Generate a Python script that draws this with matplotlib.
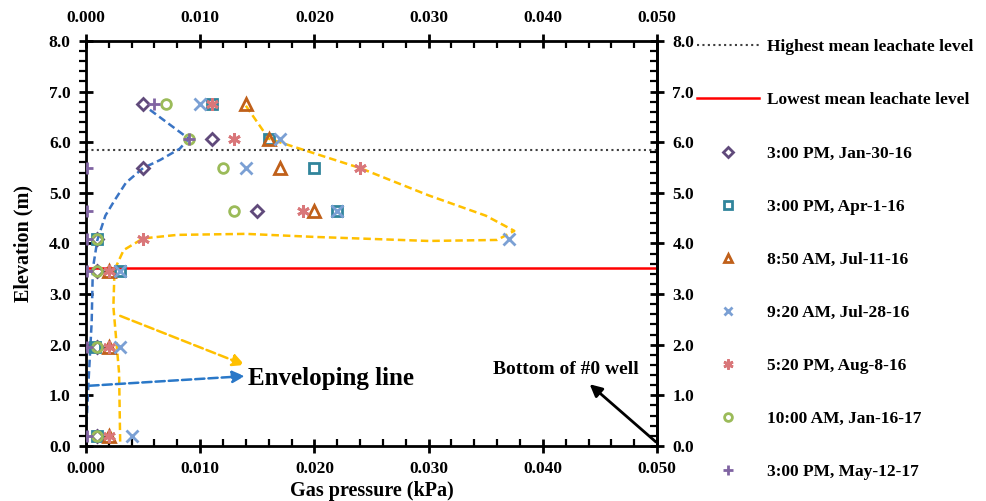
import numpy as np
import matplotlib
matplotlib.use("Agg")
import matplotlib.pyplot as plt
from matplotlib.ticker import MultipleLocator, FormatStrFormatter
from matplotlib.lines import Line2D

plt.rcParams['font.family'] = ['Liberation Serif', 'DejaVu Serif']
plt.rcParams['font.weight'] = 'bold'

# ---- data ----
elevation = [6.76, 6.07, 5.49, 4.64, 4.09, 3.46, 1.96, 0.20]
nan = np.nan
jan30_16 = [0.005, 0.011, 0.005, 0.015, 0.001, 0.001, 0.001, 0.001]
apr1_16 = [0.011, 0.016, 0.020, 0.022, 0.001, 0.003, 0.0008, 0.001]
jul11_16 = [0.014, 0.016, 0.017, 0.020, nan, 0.002, 0.002, 0.002]
jul28_16 = [0.010, 0.017, 0.014, 0.022, 0.037, 0.003, 0.003, 0.004]
aug8_16 = [0.011, 0.013, 0.024, 0.019, 0.005, 0.002, 0.002, 0.002]
jan16_17 = [0.007, 0.009, 0.012, 0.013, 0.001, 0.001, 0.001, 0.001]
may12_17 = [0.006, 0.009, 0.0001, 0.0001, 0.0001, 0.0001, 0.0001, 0.0001]

series_labels = ['3:00 PM, Jan-30-16', '3:00 PM, Apr-1-16', '8:50 AM, Jul-11-16',
                 '9:20 AM, Jul-28-16', '5:20 PM, Aug-8-16', '10:00 AM, Jan-16-17',
                 '3:00 PM, May-12-17']

highest_level = 5.85
lowest_level = 3.52

env_blue_x = [0.0056, 0.009, 0.0082, 0.0065, 0.005, 0.0035, 0.0025, 0.0017, 0.001, 0.0006, 0.0005, 0.0002, 0.0]
env_blue_y = [6.64, 6.07, 5.87, 5.65, 5.49, 5.2, 4.85, 4.55, 4.07, 3.5, 2.45, 1.17, 0.18]

env_yel_x = [0.014, 0.016, 0.020, 0.024, 0.030, 0.035, 0.0375, 0.036, 0.030, 0.020, 0.014, 0.008, 0.005, 0.0033, 0.0025, 0.0024, 0.0029, 0.003]
env_yel_y = [6.72, 6.07, 5.78, 5.49, 4.95, 4.55, 4.25, 4.07, 4.05, 4.13, 4.19, 4.17, 4.10, 3.87, 3.48, 2.75, 1.44, 0.0]

# ---- figure ----
fig = plt.figure(figsize=(9.87, 5.01), dpi=100)
ax = fig.add_axes([0.0871, 0.1098, 0.5786, 0.8084])

ax.axhline(highest_level, color='#404040', ls=(0, (1, 1.6)), lw=1.5, zorder=1)
ax.axhline(lowest_level, color='#FF0000', ls='-', lw=1.8, zorder=1)

dash = (0, (3.0, 1.6))
ax.plot(env_blue_x, env_blue_y, color='#3A74C4', ls=dash, lw=1.8, zorder=2)
ax.plot(env_yel_x, env_yel_y, color='#FFC000', ls=dash, lw=1.8, zorder=2)

asterisk = (6, 2, 0)
styles = [
    dict(marker='D', color='#604A7B', ms=6),
    dict(marker='s', color='#31859C', ms=7),
    dict(marker='^', color='#C0601A', ms=8),
    dict(marker='x', color='#7BA0D4', ms=8),
    dict(marker=asterisk, color='#D9777A', ms=9),
    dict(marker='o', color='#9BBB59', ms=7),
    dict(marker='+', color='#8064A2', ms=9),
]
all_series = [jan30_16, apr1_16, jul11_16, jul28_16, aug8_16, jan16_17, may12_17]
handles = [Line2D([0], [0], color='#404040', ls=(0, (1, 1.6)), lw=1.5),
           Line2D([0], [0], color='#FF0000', lw=1.8)]
labels = ['Highest mean leachate level', 'Lowest mean leachate level']
for vals, st, lab in zip(all_series, styles, series_labels):
    ax.plot(vals, elevation, ls='none', marker=st['marker'], ms=st['ms'],
            mfc='none', mec=st['color'], mew=2.0, zorder=3)
    handles.append(Line2D([0], [0], ls='none', marker=st['marker'], ms=st['ms'] * 0.8,
                          mfc='none', mec=st['color'], mew=2.0))
    labels.append(lab)

# arrows
ax.annotate('', xy=(0.0139, 1.60), xytext=(0.003, 2.57),
            arrowprops=dict(arrowstyle='-|>', color='#FFC000', lw=1.8, ls='--',
                            mutation_scale=18, shrinkA=0, shrinkB=0))
ax.annotate('', xy=(0.0139, 1.38), xytext=(0.0003, 1.19),
            arrowprops=dict(arrowstyle='-|>', color='#2A78C8', lw=1.8, ls='--',
                            mutation_scale=18, shrinkA=0, shrinkB=0))
ax.text(0.0142, 1.33, 'Enveloping line', fontsize=18, fontweight='bold', va='center', ha='left')
ax.annotate('', xy=(0.0441, 1.22), xytext=(0.0499, 0.08),
            arrowprops=dict(arrowstyle='-|>', color='black', lw=2,
                            mutation_scale=18, shrinkA=0, shrinkB=0))
ax.text(0.0356, 1.52, 'Bottom of #0 well', fontsize=14, fontweight='bold', va='center', ha='left')

ax.set_xlim(0, 0.05)
ax.set_ylim(0, 8)
ax.xaxis.set_major_locator(MultipleLocator(0.01))
ax.xaxis.set_minor_locator(MultipleLocator(0.002))
ax.yaxis.set_major_locator(MultipleLocator(1.0))
ax.yaxis.set_minor_locator(MultipleLocator(0.2))
ax.xaxis.set_major_formatter(FormatStrFormatter('%.3f'))
ax.yaxis.set_major_formatter(FormatStrFormatter('%.1f'))
for sp in ax.spines.values():
    sp.set_linewidth(2)

ax.tick_params(which='major', direction='inout', length=10, width=2, labelsize=12.5,
               top=True, right=True, labeltop=True, labelright=True, pad=6)
ax.tick_params(axis='x', which='minor', direction='in', length=5, width=1.6, top=True, bottom=True)
ax.tick_params(axis='y', which='minor', direction='out', length=5, width=1.6, left=True, right=False)
for lab in ax.get_xticklabels() + ax.get_yticklabels():
    lab.set_fontweight('bold')
secax = ax.secondary_yaxis('right')
secax.yaxis.set_major_locator(MultipleLocator(1.0))
secax.yaxis.set_minor_locator(MultipleLocator(0.2))
secax.tick_params(which='major', length=0, labelright=False, labelleft=False)
secax.tick_params(which='minor', direction='in', length=5, width=1.6)
secax.spines['right'].set_linewidth(2)
secax.set_yticklabels([])

ax.set_xlabel('Gas pressure (kPa)', fontsize=14.5, fontweight='bold', labelpad=3)
ax.set_ylabel('Elevation (m)', fontsize=14.5, fontweight='bold', labelpad=11)

fig.legend(handles, labels, loc='upper left', bbox_to_anchor=(0.690, 0.953),
           frameon=False, labelspacing=2.13, handlelength=3.6,
           handletextpad=0.45, prop={'weight': 'bold', 'size': 12.5})

fig.savefig('out.png', dpi=100)
